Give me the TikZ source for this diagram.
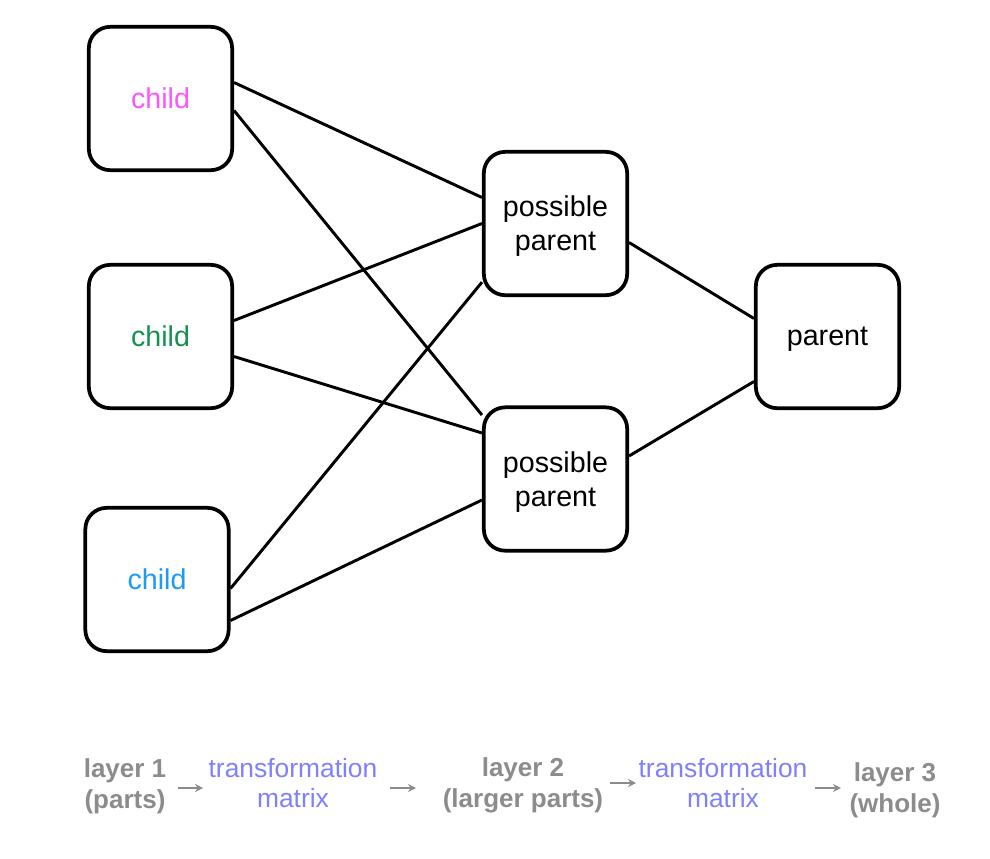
\documentclass[tikz,border=0pt]{standalone}
\usepackage{fontspec}
\setmainfont{Liberation Sans}
\usetikzlibrary{arrows.meta}
\definecolor{cpink}{RGB}{255,85,255}
\definecolor{cgreen}{RGB}{22,145,80}
\definecolor{cblue}{RGB}{30,155,240}
\definecolor{clav}{RGB}{128,128,255}
\definecolor{cgray}{RGB}{140,140,140}
\tikzset{
  box/.style={draw=black, line width=2.8pt, rounded corners=16pt, minimum width=107.5pt, minimum height=107.5pt, align=center, font=\fontsize{21.5}{25.5}\selectfont, inner sep=0pt, text depth=0pt},
  link/.style={line width=2.2pt, black},
  layerlbl/.style={align=center, text=cgray, font=\fontsize{19.5}{23.5}\selectfont\bfseries, inner sep=0pt},
  matlbl/.style={align=center, text=clav, font=\fontsize{19.8}{23}\selectfont, inner sep=0pt},
  smallarrow/.style={draw=cgray, line width=1.4pt, -{Stealth[length=6pt,width=6pt]}}
}
\begin{document}
\begin{tikzpicture}[x=0.75pt,y=-0.75pt]
\useasboundingbox[fill=white] (0,0) rectangle (990,858);
\node[box, text=cpink] (c1) at (160.5,98.5) {child};
\node[box, text=cgreen] (c2) at (160.5,336.5) {child};
\node[box, text=cblue] (c3) at (157,579.5) {child};
\node[box] (p1) at (555.5,223.5) {possible\\parent};
\node[box] (p2) at (555.5,479) {possible\\parent};
\node[box] (pa) at (827.5,336.5) {parent};

\draw[link] ([yshift=12pt]c1.east) -- ([yshift=19.5pt]p1.west);
\draw[link] ([yshift=-9pt]c1.east) -- ([yshift=48pt]p2.west);
\draw[link] ([yshift=12pt]c2.east) -- ([yshift=0pt]p1.west);
\draw[link] ([yshift=-15pt]c2.east) -- ([yshift=34.5pt]p2.west);
\draw[link] ([yshift=-6.75pt]c3.east) -- ([yshift=-44pt]p1.west);
\draw[link] ([yshift=-30.75pt]c3.east) -- ([yshift=-15.75pt]p2.west);
\draw[link] ([yshift=-14.25pt]p1.east) -- ([yshift=13.5pt]pa.west);
\draw[link] ([yshift=17.25pt]p2.east) -- ([yshift=-33.75pt]pa.west);

\node[layerlbl] (l1) at (125,786) {layer 1\\(parts)};
\node[matlbl] (t1) at (293,783) {transformation\\matrix};
\node[layerlbl] (l2) at (523,785) {layer 2\\(larger parts)};
\node[matlbl] (t2) at (723,783) {transformation\\matrix};
\node[layerlbl] (l3) at (895,790) {layer 3\\(whole)};

\coordinate (a1s) at (178,788); \coordinate (a1e) at (203,788);
\coordinate (a2s) at (390,788); \coordinate (a2e) at (416,788);
\coordinate (a3s) at (610,783); \coordinate (a3e) at (636,783);
\coordinate (a4s) at (815,788); \coordinate (a4e) at (841,788);
\draw[smallarrow] (a1s) -- (a1e);
\draw[smallarrow] (a2s) -- (a2e);
\draw[smallarrow] (a3s) -- (a3e);
\draw[smallarrow] (a4s) -- (a4e);
\end{tikzpicture}
\end{document}
